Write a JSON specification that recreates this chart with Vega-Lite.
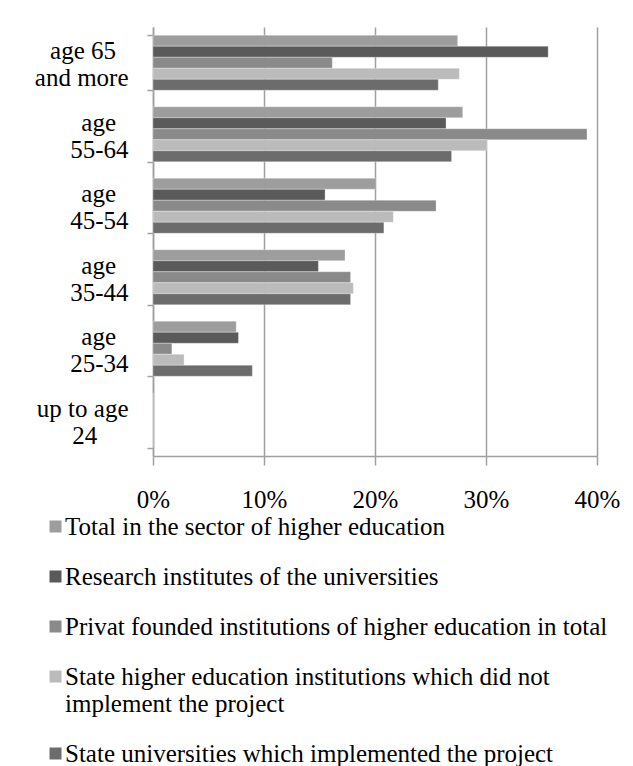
{
  "$schema": "https://vega.github.io/schema/vega-lite/v6.json",
  "autosize": "none",
  "width": 444,
  "height": 429,
  "padding": {"left": 153, "top": 27, "right": 36, "bottom": 310},
  "background": "white",
  "data": {
    "values": [
      {"age": "age 65 and more", "series": "Total in the sector of higher education", "value": 0.2745},
      {"age": "age 65 and more", "series": "Research institutes of the universities", "value": 0.356},
      {"age": "age 65 and more", "series": "Privat founded institutions of higher education in total", "value": 0.1615},
      {"age": "age 65 and more", "series": "State higher education institutions which did not implement the project", "value": 0.276},
      {"age": "age 65 and more", "series": "State universities which implemented the project", "value": 0.257},
      {"age": "age 55-64", "series": "Total in the sector of higher education", "value": 0.279},
      {"age": "age 55-64", "series": "Research institutes of the universities", "value": 0.264},
      {"age": "age 55-64", "series": "Privat founded institutions of higher education in total", "value": 0.391},
      {"age": "age 55-64", "series": "State higher education institutions which did not implement the project", "value": 0.301},
      {"age": "age 55-64", "series": "State universities which implemented the project", "value": 0.269},
      {"age": "age 45-54", "series": "Total in the sector of higher education", "value": 0.201},
      {"age": "age 45-54", "series": "Research institutes of the universities", "value": 0.155},
      {"age": "age 45-54", "series": "Privat founded institutions of higher education in total", "value": 0.255},
      {"age": "age 45-54", "series": "State higher education institutions which did not implement the project", "value": 0.2165},
      {"age": "age 45-54", "series": "State universities which implemented the project", "value": 0.208},
      {"age": "age 35-44", "series": "Total in the sector of higher education", "value": 0.173},
      {"age": "age 35-44", "series": "Research institutes of the universities", "value": 0.149},
      {"age": "age 35-44", "series": "Privat founded institutions of higher education in total", "value": 0.178},
      {"age": "age 35-44", "series": "State higher education institutions which did not implement the project", "value": 0.1805},
      {"age": "age 35-44", "series": "State universities which implemented the project", "value": 0.178},
      {"age": "age 25-34", "series": "Total in the sector of higher education", "value": 0.075},
      {"age": "age 25-34", "series": "Research institutes of the universities", "value": 0.077},
      {"age": "age 25-34", "series": "Privat founded institutions of higher education in total", "value": 0.017},
      {"age": "age 25-34", "series": "State higher education institutions which did not implement the project", "value": 0.028},
      {"age": "age 25-34", "series": "State universities which implemented the project", "value": 0.0895},
      {"age": "up to age 24", "series": "Total in the sector of higher education", "value": 0},
      {"age": "up to age 24", "series": "Research institutes of the universities", "value": 0},
      {"age": "up to age 24", "series": "Privat founded institutions of higher education in total", "value": 0},
      {"age": "up to age 24", "series": "State higher education institutions which did not implement the project", "value": 0},
      {"age": "up to age 24", "series": "State universities which implemented the project", "value": 0}
    ]
  },
  "mark": {"type": "bar", "stroke": "#ffffff", "strokeOpacity": 0.3, "strokeWidth": 1},
  "encoding": {
    "y": {
      "field": "age",
      "type": "nominal",
      "scale": {
        "domain": ["age 65 and more", "age 55-64", "age 45-54", "age 35-44", "age 25-34", "up to age 24"],
        "paddingInner": 0.23,
        "paddingOuter": 0.115
      },
      "axis": {
        "title": null,
        "domain": true,
        "domainColor": "#a0a0a0",
        "domainWidth": 1.5,
        "ticks": true,
        "tickBand": "extent",
        "tickColor": "#a0a0a0",
        "tickWidth": 1.5,
        "tickSize": 6,
        "labelFont": "Liberation Serif",
        "labelFontSize": 25,
        "labelColor": "#000000",
        "labelAlign": "right",
        "labelBaseline": "middle",
        "labelPadding": 19,
        "labelOffset": -12,
        "labelLineHeight": 27,
        "labelExpr": "!isString(datum.value) ? '' : datum.value == 'age 65 and more' ? ['age 65\u00a0\u00a0\u200b', 'and more'] : datum.value == 'up to age 24' ? ['up to age', '24\u00a0\u00a0\u00a0\u00a0\u00a0\u200b'] : [split(datum.value, ' ')[0] + '\u00a0\u00a0\u200b', split(datum.value, ' ')[1]]"
      }
    },
    "yOffset": {
      "field": "series",
      "type": "nominal",
      "sort": [
        "Total in the sector of higher education",
        "Research institutes of the universities",
        "Privat founded institutions of higher education in total",
        "State higher education institutions which did not implement the project",
        "State universities which implemented the project"
      ],
      "scale": {"paddingInner": 0, "paddingOuter": 0}
    },
    "x": {
      "field": "value",
      "type": "quantitative",
      "scale": {"domain": [0, 0.4], "nice": false},
      "axis": {
        "title": null,
        "format": ".0%",
        "values": [0, 0.1, 0.2, 0.3, 0.4],
        "grid": true,
        "gridColor": "#a0a0a0",
        "gridWidth": 1.5,
        "domain": true,
        "domainColor": "#a0a0a0",
        "domainWidth": 1.5,
        "ticks": true,
        "tickColor": "#a0a0a0",
        "tickWidth": 1.5,
        "tickSize": 9,
        "labelFont": "Liberation Serif",
        "labelFontSize": 25,
        "labelColor": "#000000",
        "labelPadding": 22,
        "labelFlush": false
      }
    },
    "color": {
      "field": "series",
      "type": "nominal",
      "scale": {
        "domain": [
          "Total in the sector of higher education",
          "Research institutes of the universities",
          "Privat founded institutions of higher education in total",
          "State higher education institutions which did not implement the project",
          "State universities which implemented the project"
        ],
        "range": ["#9d9d9d", "#5a5a5a", "#8a8a8a", "#bbbbbb", "#6c6c6c"]
      },
      "legend": {
        "title": null,
        "orient": "none",
        "legendX": -110,
        "legendY": 487,
        "direction": "vertical",
        "padding": 0,
        "symbolType": "square",
        "symbolSize": 144,
        "symbolStrokeWidth": 0,
        "labelFont": "Liberation Serif",
        "labelFontSize": 25,
        "labelColor": "#000000",
        "labelOffset": -3,
        "labelLimit": 700,
        "labelLineHeight": 24,
        "labelBaseline": "middle",
        "rowPadding": 24,
        "labelExpr": "datum.value == 'State higher education institutions which did not implement the project' ? ['State higher education institutions which did not', 'implement the project'] : datum.value"
      }
    }
  },
  "config": {
    "view": {"stroke": null},
    "font": "Liberation Serif"
  }
}
